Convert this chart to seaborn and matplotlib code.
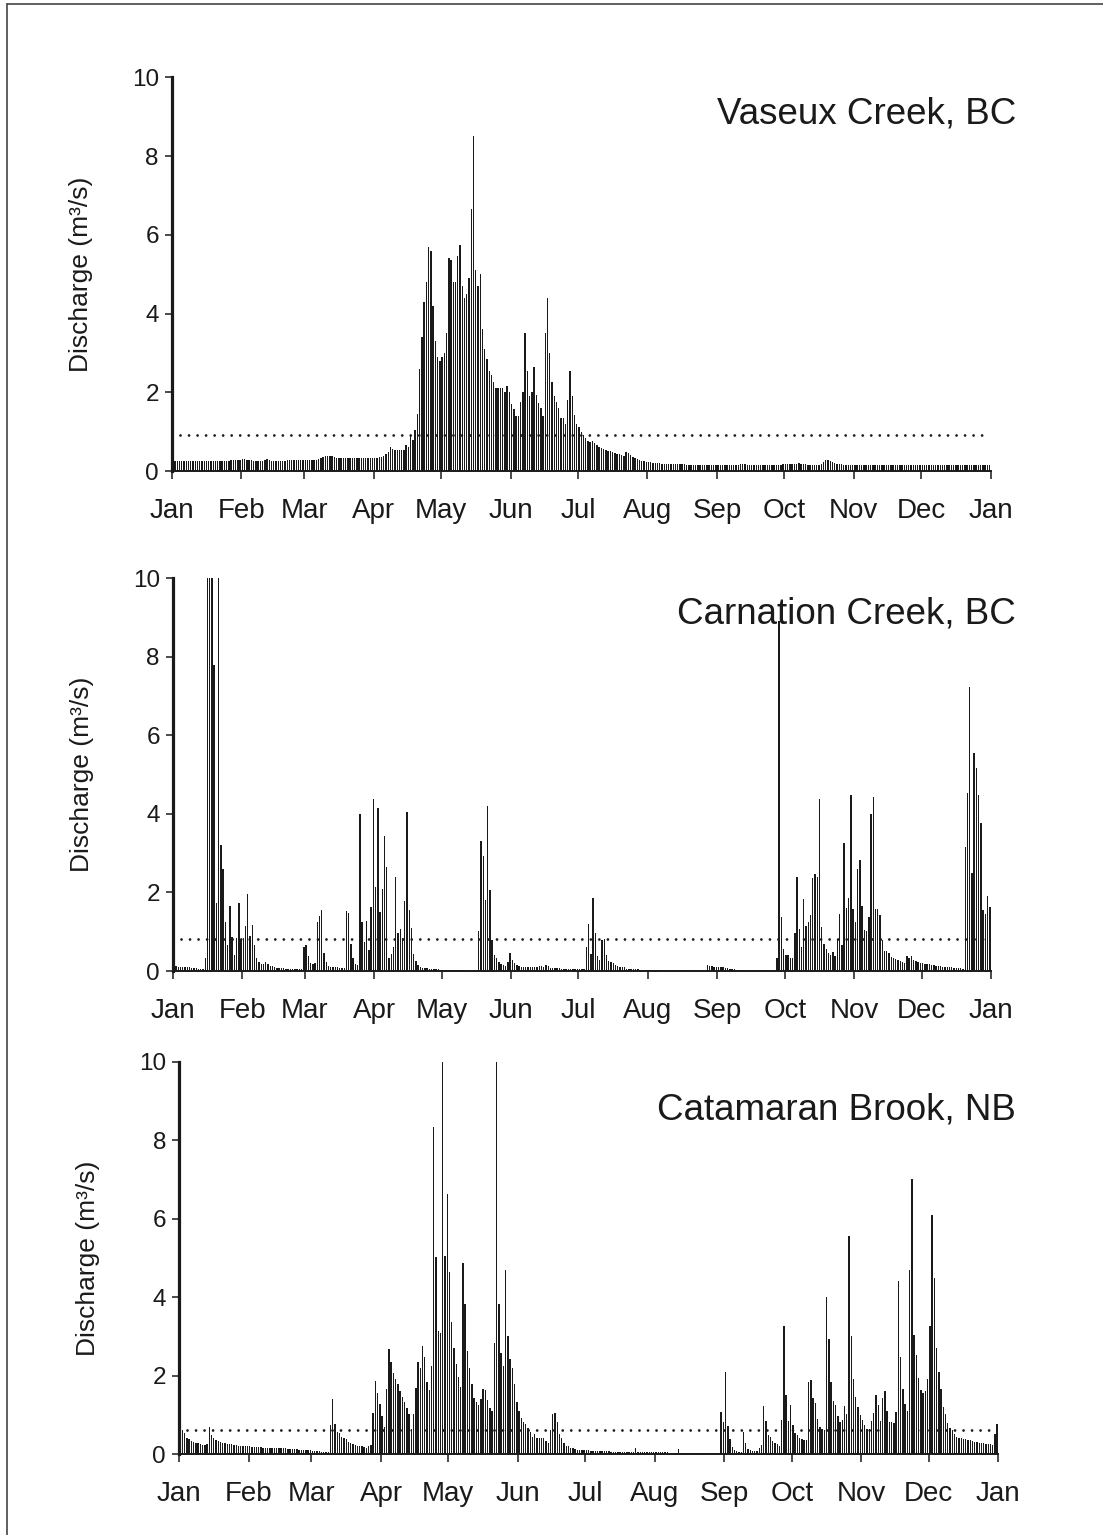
import numpy as np
import pandas as pd
import matplotlib
matplotlib.use("Agg")
import matplotlib.pyplot as plt
from matplotlib.lines import Line2D
import seaborn as sns

# ---------------- data (daily discharge, m3/s, one value per day of year) ----------------
MONTH_LABELS = ["Jan", "Feb", "Mar", "Apr", "May", "Jun", "Jul", "Aug", "Sep", "Oct", "Nov", "Dec", "Jan"]
MONTH_START_DAYS = [0, 31, 59, 90, 120, 151, 181, 212, 243, 273, 304, 334, 365]
Y_TICKS = [0, 2, 4, 6, 8, 10]
STATIONS = ["Vaseux Creek, BC", "Carnation Creek, BC", "Catamaran Brook, NB"]
MEAN_DISCHARGE = [0.92, 0.81, 0.62]

VASEUX = [
    # Jan
    0.25, 0.25, 0.25, 0.25, 0.25, 0.25, 0.25, 0.25, 0.25, 0.25, 0.26, 0.26, 0.26, 0.26, 0.26, 0.26,
    0.26, 0.26, 0.26, 0.26, 0.25, 0.25, 0.25, 0.25, 0.26, 0.26, 0.27, 0.28, 0.28, 0.28, 0.28,
    # Feb
    0.3, 0.3, 0.29, 0.28, 0.28, 0.26, 0.25, 0.25, 0.25, 0.25, 0.28, 0.3, 0.27, 0.25, 0.25, 0.25,
    0.25, 0.25, 0.26, 0.26, 0.28, 0.28, 0.28, 0.28, 0.28, 0.28, 0.28, 0.28,
    # Mar
    0.28, 0.28, 0.28, 0.28, 0.28, 0.29, 0.3, 0.32, 0.35, 0.37, 0.38, 0.38, 0.37, 0.36, 0.34, 0.33,
    0.33, 0.33, 0.33, 0.33, 0.32, 0.32, 0.32, 0.32, 0.32, 0.32, 0.32, 0.32, 0.32, 0.32, 0.32,
    # Apr
    0.33, 0.34, 0.35, 0.36, 0.38, 0.42, 0.48, 0.6, 0.55, 0.54, 0.54, 0.53, 0.53, 0.54, 0.66,
    0.6, 0.9, 0.8, 1.04, 1.44, 2.6, 3.4, 4.3, 4.8, 5.7, 5.6, 4.2, 3.3, 2.9, 2.8,
    # May
    2.9, 3.0, 3.5, 5.4, 5.35, 4.8, 4.8, 5.45, 5.75, 4.7, 4.4, 4.5, 4.9, 6.65, 8.5, 5.1,
    4.7, 5.0, 3.6, 3.1, 2.85, 2.55, 2.45, 2.25, 2.1, 2.1, 2.1, 2.1, 2.0, 2.15, 2.0,
    # Jun
    1.7, 1.57, 1.4, 1.4, 1.75, 2.0, 3.5, 2.55, 1.9, 2.0, 2.65, 1.93, 1.72, 1.6, 1.4, 3.5,
    4.4, 3.0, 2.25, 1.9, 1.75, 1.6, 1.35, 1.35, 1.2, 1.8, 2.55, 1.9, 1.42, 1.2,
    # Jul
    1.13, 1.0, 0.92, 0.83, 0.76, 0.74, 0.76, 0.7, 0.66, 0.62, 0.58, 0.55, 0.53,
    0.52, 0.5, 0.48, 0.46, 0.44, 0.42, 0.4, 0.38, 0.48, 0.45, 0.4, 0.35, 0.32, 0.3, 0.28, 0.26, 0.25, 0.24,
    # Aug
    0.23, 0.22, 0.21, 0.2, 0.2, 0.2, 0.19, 0.19, 0.18, 0.18, 0.18, 0.18, 0.17, 0.17, 0.17, 0.17,
    0.17, 0.16, 0.16, 0.16, 0.15, 0.15, 0.15, 0.15, 0.15, 0.15, 0.15, 0.14, 0.14, 0.14, 0.14,
    # Sep
    0.14, 0.14, 0.14, 0.14, 0.14, 0.14, 0.14, 0.14, 0.14, 0.15, 0.17, 0.17, 0.17, 0.16, 0.15,
    0.15, 0.15, 0.15, 0.15, 0.15, 0.15, 0.15, 0.15, 0.15, 0.15, 0.15, 0.15, 0.15, 0.16, 0.17,
    # Oct
    0.17, 0.17, 0.17, 0.17, 0.17, 0.19, 0.2, 0.19, 0.17, 0.17, 0.16, 0.16, 0.16, 0.16, 0.16, 0.16,
    0.17, 0.22, 0.27, 0.28, 0.25, 0.22, 0.2, 0.19, 0.18, 0.17, 0.16, 0.16, 0.15, 0.15, 0.15,
    # Nov
    0.15, 0.15, 0.15, 0.15, 0.15, 0.15, 0.15, 0.15, 0.15, 0.16, 0.16, 0.16, 0.16, 0.15, 0.15,
    0.15, 0.15, 0.15, 0.15, 0.15, 0.15, 0.15, 0.15, 0.15, 0.15, 0.15, 0.15, 0.15, 0.15, 0.15,
    # Dec
    0.15, 0.15, 0.15, 0.15, 0.15, 0.14, 0.14, 0.14, 0.14, 0.14, 0.14, 0.14, 0.14, 0.14, 0.14, 0.14,
    0.14, 0.14, 0.15, 0.15, 0.15, 0.15, 0.15, 0.15, 0.15, 0.15, 0.15, 0.15, 0.15, 0.15, 0.15,
]

CARNATION = [
    # Jan
    0.12, 0.12, 0.11, 0.11, 0.1, 0.1, 0.09, 0.09, 0.08, 0.08, 0.07, 0.06, 0.06, 0.05,
    0.32, 12.0, 12.0, 12.0, 7.8, 1.72, 12.0, 3.2, 2.6, 1.24, 0.65, 1.65, 0.86, 0.41, 0.83, 1.72, 0.79,
    # Feb
    0.85, 1.15, 1.96, 0.89, 1.17, 0.66, 0.34, 0.22, 0.17, 0.17, 0.24, 0.18, 0.13, 0.12, 0.09,
    0.08, 0.08, 0.07, 0.07, 0.06, 0.06, 0.05, 0.05, 0.05, 0.04, 0.04, 0.04, 0.62,
    # Mar
    0.66, 0.39, 0.21, 0.18, 0.2, 1.24, 1.41, 1.56, 0.47, 0.24, 0.14,
    0.1, 0.1, 0.09, 0.09, 0.08, 0.08, 0.08,
    1.53, 1.47, 0.7, 0.32, 0.18, 0.15, 4.0, 1.24, 0.75, 1.27, 0.53, 1.64, 4.37,
    # Apr
    2.15, 4.16, 1.49, 2.09, 3.45, 2.66, 0.34, 0.43, 0.6, 2.39, 0.98, 1.06, 0.85, 1.78, 4.06,
    1.55, 1.09, 0.43, 0.25, 0.15, 0.11, 0.08, 0.07, 0.07, 0.06, 0.05, 0.05, 0.04, 0.04, 0.03,
    # May
    0.03, 0.03, 0.03, 0.03, 0.03, 0.03, 0.03, 0.03, 0.03, 0.03, 0.0, 0.0, 0.0, 0.0, 0.03, 0.03,
    1.03, 3.31, 2.93, 1.81, 4.21, 2.06, 0.79, 0.42, 0.32, 0.24, 0.19, 0.15, 0.14, 0.22, 0.47,
    # Jun
    0.28, 0.2, 0.15, 0.12, 0.11, 0.1, 0.1, 0.1, 0.09, 0.09, 0.1, 0.11, 0.12, 0.13, 0.09, 0.15,
    0.14, 0.08, 0.08, 0.07, 0.07, 0.07, 0.06, 0.06, 0.06, 0.06, 0.05, 0.05, 0.05, 0.05,
    # Jul
    0.05, 0.05, 0.05, 0.6, 1.19, 0.43, 1.87, 0.98, 0.37, 0.28, 0.79, 0.81, 0.41, 0.26, 0.24, 0.2,
    0.15, 0.12, 0.11, 0.1, 0.09, 0.06, 0.05, 0.05, 0.04, 0.04, 0.04, 0.03, 0.03, 0.03, 0.03,
    # Aug
    0.03, 0.03, 0.03, 0.03, 0.03, 0.0, 0.0, 0.0, 0.0, 0.0, 0.0, 0.0, 0.0, 0.0, 0.0,
    0.02, 0.02, 0.02, 0.02, 0.0, 0.0, 0.0, 0.0, 0.0, 0.0, 0.0, 0.15, 0.13, 0.12, 0.11, 0.1,
    # Sep
    0.1, 0.1, 0.09, 0.08, 0.07, 0.06, 0.05, 0.04, 0.03, 0.03, 0.0, 0.0, 0.0, 0.0, 0.0, 0.0,
    0.0, 0.0, 0.0, 0.02, 0.02, 0.02, 0.0, 0.0, 0.0, 0.0, 0.32, 8.9, 1.38, 0.55,
    # Oct
    0.41, 0.41, 0.32, 0.32, 0.96, 2.39, 1.07, 0.62, 1.83, 1.15, 1.26, 1.43, 2.36, 2.47, 2.4, 4.37,
    1.11, 0.7, 0.56, 0.45, 0.41, 0.49, 0.39, 0.81, 1.44, 0.66, 3.27, 1.6, 1.85, 4.48, 1.57,
    # Nov
    1.24, 2.61, 2.83, 1.66, 1.04, 1.03, 1.37, 3.99, 4.44, 1.57, 1.57, 1.43, 0.79, 0.51, 0.51,
    0.45, 0.35, 0.32, 0.3, 0.28, 0.25, 0.22, 0.2, 0.39, 0.32, 0.37, 0.28, 0.25, 0.22, 0.2,
    # Dec
    0.2, 0.19, 0.18, 0.17, 0.16, 0.15, 0.14, 0.13, 0.12, 0.11, 0.1, 0.1, 0.09, 0.09, 0.08, 0.08,
    0.07, 0.07, 0.06, 3.17, 4.54, 7.22, 2.49, 5.56, 5.16, 4.48, 3.76, 1.55, 1.45, 1.91, 1.64,
]

CATAMARAN = [
    # Jan
    0.81, 0.62, 0.53, 0.42, 0.38, 0.35, 0.31, 0.29, 0.28, 0.26, 0.24, 0.23, 0.25, 0.7, 0.49, 0.42,
    0.37, 0.34, 0.31, 0.3, 0.28, 0.27, 0.26, 0.25, 0.24, 0.23, 0.22, 0.22, 0.21, 0.21, 0.2,
    # Feb
    0.2, 0.19, 0.19, 0.18, 0.18, 0.18, 0.17, 0.17, 0.17, 0.17, 0.16, 0.16, 0.16, 0.16, 0.15,
    0.15, 0.15, 0.14, 0.14, 0.14, 0.13, 0.13, 0.12, 0.12, 0.11, 0.1, 0.1, 0.1,
    # Mar
    0.09, 0.09, 0.08, 0.08, 0.07, 0.07, 0.07, 0.06, 0.75, 1.4, 0.76, 0.58, 0.55, 0.45, 0.42, 0.38,
    0.31, 0.28, 0.26, 0.24, 0.21, 0.2, 0.2, 0.18, 0.17, 0.21, 0.24, 1.04, 1.87, 1.57, 1.27,
    # Apr
    0.98, 0.69, 1.66, 2.67, 2.36, 2.08, 1.91, 1.78, 1.62, 1.47, 1.32, 1.17, 1.02, 0.65, 1.02,
    1.68, 2.36, 2.19, 2.76, 2.47, 1.83, 1.64, 2.25, 8.33, 5.02, 3.14, 3.1, 9.98, 5.05, 6.63,
    # May
    4.65, 3.38, 2.72, 2.29, 1.98, 1.72, 4.86, 3.82, 2.64, 2.19, 1.78, 1.43, 1.32, 1.26, 1.41, 1.66,
    1.64, 1.38, 1.19, 1.11, 2.83, 9.98, 3.82, 2.58, 2.26, 4.69, 3.02, 2.42, 2.19, 1.78, 1.34,
    # Jun
    1.1, 0.92, 0.81, 0.77, 0.68, 0.58, 0.45, 0.51, 0.42, 0.41, 0.41, 0.41, 0.34, 0.3, 0.62,
    1.02, 1.04, 0.83, 0.52, 0.41, 0.3, 0.21, 0.2, 0.17, 0.15, 0.14, 0.12, 0.11, 0.11, 0.1,
    # Jul
    0.1, 0.1, 0.09, 0.09, 0.09, 0.09, 0.08, 0.08, 0.08, 0.08, 0.08, 0.07, 0.07, 0.07, 0.07, 0.07,
    0.07, 0.06, 0.06, 0.06, 0.06, 0.06, 0.15, 0.06, 0.05, 0.05, 0.05, 0.05, 0.05, 0.05, 0.05,
    # Aug
    0.05, 0.05, 0.05, 0.05, 0.05, 0.05, 0.04, 0.04, 0.04, 0.04, 0.14, 0.04, 0.04, 0.04, 0.04, 0.04,
    0.04, 0.03, 0.03, 0.03, 0.03, 0.03, 0.03, 0.03, 0.03, 0.03, 0.03, 0.03, 0.03, 1.09, 0.81,
    # Sep
    2.09, 0.72, 0.39, 0.18, 0.11, 0.08, 0.07, 0.06, 0.58, 0.3, 0.14, 0.11, 0.09, 0.08, 0.08,
    0.15, 0.24, 1.23, 0.85, 0.49, 0.44, 0.35, 0.3, 0.26, 0.21, 0.87, 3.28, 1.51, 0.85, 1.26,
    # Oct
    0.75, 0.55, 0.49, 0.42, 0.38, 0.37, 0.37, 1.83, 1.89, 1.43, 1.3, 0.89, 0.69, 0.64, 0.62, 4.0,
    2.93, 1.85, 1.37, 1.26, 0.98, 0.81, 0.87, 1.23, 1.03, 5.56, 3.02, 1.92, 1.47, 1.2, 1.0,
    # Nov
    0.87, 0.75, 0.64, 0.64, 0.85, 1.04, 1.51, 1.26, 0.86, 1.43, 1.62, 1.1, 0.83, 0.81, 0.79,
    1.09, 4.41, 2.48, 1.66, 1.28, 1.1, 4.69, 7.01, 3.04, 2.53, 1.94, 1.64, 1.57, 1.6, 1.92,
    # Dec
    3.27, 6.1, 4.48, 2.71, 2.1, 1.66, 1.21, 1.02, 0.79, 0.68, 0.62, 0.52, 0.45, 0.42, 0.41, 0.4,
    0.38, 0.37, 0.37, 0.34, 0.32, 0.31, 0.3, 0.28, 0.28, 0.26, 0.25, 0.25, 0.24, 0.51, 0.77,
]

SERIES = [VASEUX, CARNATION, CATAMARAN]

# ---------------- layout (pixels in the 1103 x 1535 figure) ----------------
W, H = 1103, 1535
AXES_PX = [(171.7, 77.3, 990.7, 471.0),
           (172.7, 578.3, 991.0, 971.0),
           (179.0, 1061.7, 998.3, 1454.3)]
TITLE_PX = [(1016, 124), (1016, 623), (1016, 1120)]
INK = "#1a1a1a"

sns.set_theme(style="ticks")
plt.rcParams["font.family"] = ["Liberation Sans", "DejaVu Sans"]
plt.rcParams["axes.linewidth"] = 1.3

fig = plt.figure(figsize=(W / 100, H / 100), dpi=100)
fig.patch.set_facecolor("white")

for values, name, mean, (l, t, r, b), (tx, ty) in zip(SERIES, STATIONS, MEAN_DISCHARGE, AXES_PX, TITLE_PX):
    ax = fig.add_axes([l / W, 1 - b / H, (r - l) / W, (b - t) / H])
    ax.set_facecolor("white")
    df = pd.DataFrame({"day": np.arange(len(values)) + 0.5, "discharge": values})
    sns.barplot(data=df, x="day", y="discharge", native_scale=True, width=0.62,
                color=INK, saturation=1, errorbar=None, linewidth=0, edgecolor="none", ax=ax)
    ax.plot([3.7, 363.7], [mean, mean], color=INK, lw=2.0,
            linestyle=(0, (0.01, 3.06)), dash_capstyle="round", zorder=5)

    ax.set_xlim(0, 365)
    ax.set_ylim(0, 10)
    ax.set_xticks(MONTH_START_DAYS)
    ax.set_xticklabels(MONTH_LABELS)
    ax.set_yticks(Y_TICKS)
    ax.set_yticklabels([str(v) for v in Y_TICKS])
    ax.set_xlabel("")
    ax.set_ylabel("")
    sns.despine(ax=ax)
    ax.spines["left"].set_linewidth(2.3)
    ax.spines["bottom"].set_linewidth(1.4)
    for s in ("left", "bottom"):
        ax.spines[s].set_color(INK)
    ax.tick_params(axis="y", direction="out", length=5, width=1.1, pad=4.3,
                   labelsize=17.5, colors=INK)
    ax.tick_params(axis="x", direction="out", length=5.8, width=1.1, pad=13.5,
                   labelsize=20, colors=INK)

    fig.text(tx / W, 1 - ty / H, name, ha="right", va="baseline", fontsize=26.5, color=INK)
    fig.text((l - 90.7) / W, 1 - ((t + b) / 2) / H, "Discharge (m³/s)", rotation=90,
             ha="center", va="center", fontsize=19, color=INK)

# partial frame around the figure (top and left edges)
fig.add_artist(Line2D([7 / W, 7 / W], [0, 1 - 4 / H], color="#444444", lw=1.2))
fig.add_artist(Line2D([7 / W, 1], [1 - 4 / H, 1 - 4 / H], color="#444444", lw=1.2))

fig.savefig("out.png", dpi=100, facecolor="white")
